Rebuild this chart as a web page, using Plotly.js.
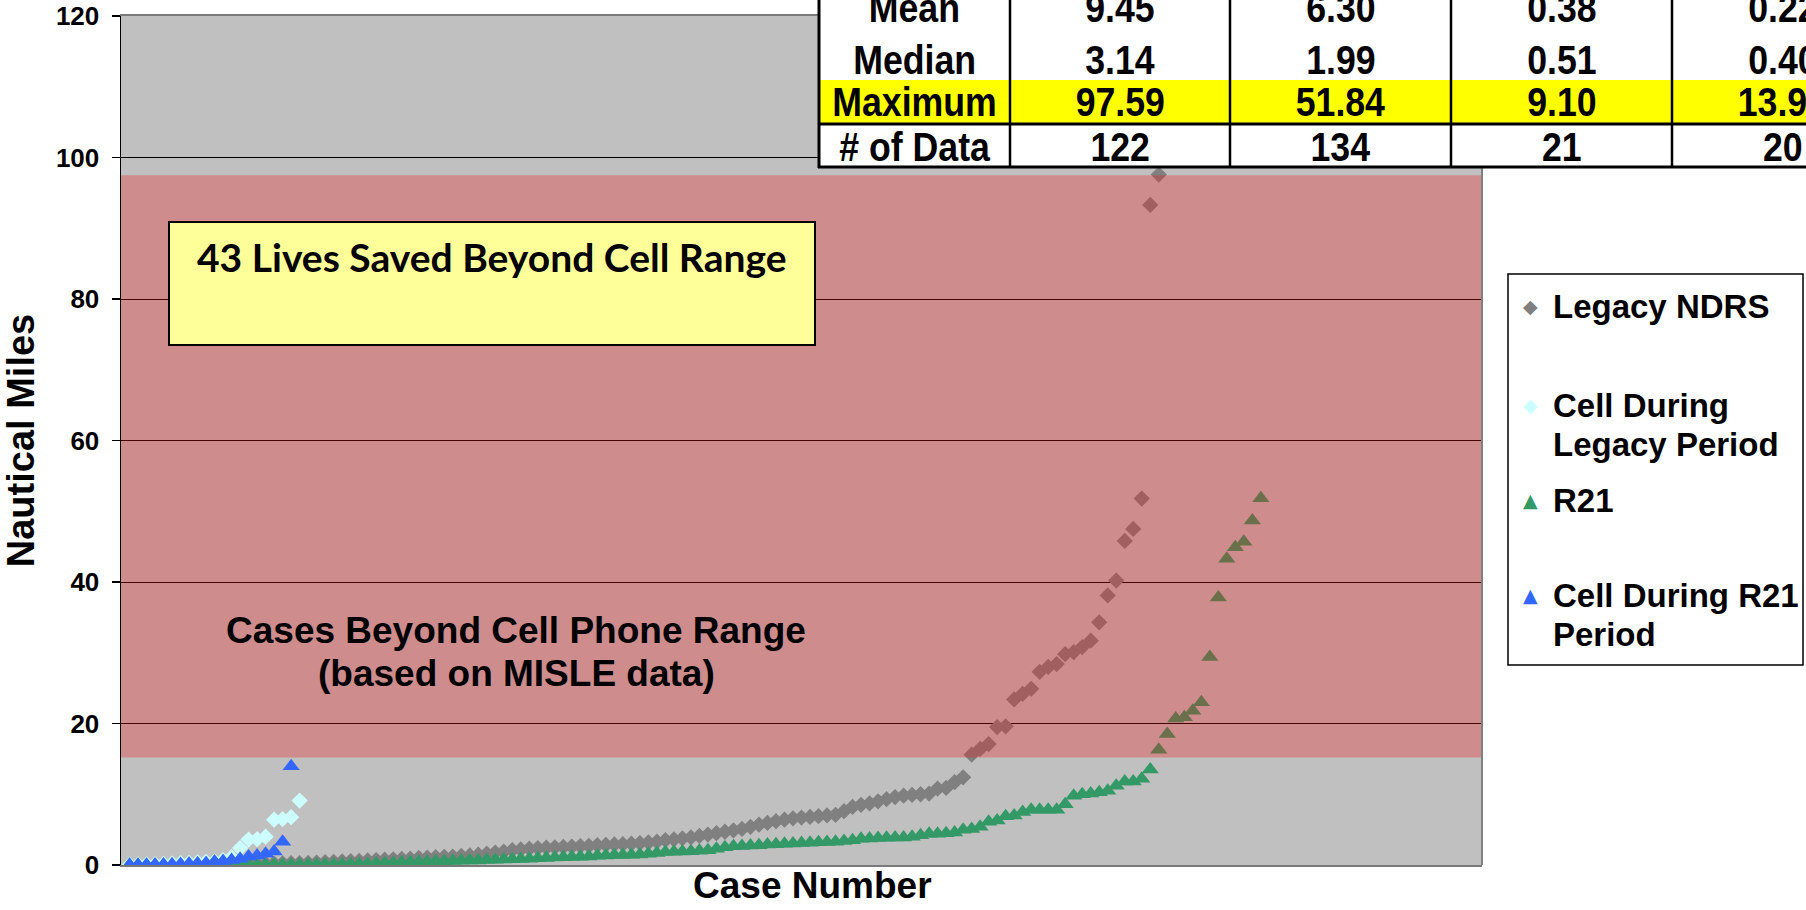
<!DOCTYPE html>
<html><head><meta charset="utf-8">
<script src="https://cdn.plot.ly/plotly-3.0.1.min.js"></script>
<style>html,body{margin:0;padding:0;background:#fff;overflow:hidden}#chart{width:1806px;height:910px}</style>
</head><body><div id="chart"></div>
<script>
// ---------------- DATA ----------------
const seriesNames = ["Legacy NDRS", "Cell During Legacy Period", "R21", "Cell During R21 Period"];

const legacyNDRS = [0.01,0.02,0.03,0.04,0.05,0.06,0.07,0.08,0.09,0.10,0.11,0.12,0.13,0.14,0.15,0.17,0.19,0.21,0.23,0.25,
  0.27,0.30,0.35,0.40,0.45,0.50,0.55,0.60,0.65,0.70,
  0.75,0.80,0.85,0.90,1.00,1.05,1.10,1.15,1.20,1.28,
  1.35,1.45,1.60,1.75,1.90,2.10,2.20,2.30,2.40,2.45,
  2.50,2.55,2.60,2.68,2.72,2.80,2.85,2.90,2.95,3.02,
  3.10,3.18,3.30,3.50,3.62,3.75,3.90,4.10,4.30,4.50,
  4.70,4.90,5.10,5.40,5.70,5.95,6.20,6.40,6.60,6.70,
  6.80,6.90,7.00,7.10,7.60,8.20,8.50,8.70,9.00,9.30,9.60,
  9.80,9.90,10.00,10.10,10.80,10.90,11.70,12.40,
  15.6,16.4,17.1,19.5,19.6,23.4,24.2,24.9,27.3,28.0,28.4,29.8,30.1,30.8,31.7,34.3,38.1,40.2,45.8,47.5,51.8,93.3,97.59];

const cellLegacy = [0.05,0.08,0.10,0.12,0.15,0.20,0.25,0.30,0.38,0.45,0.51,0.70,1.10,2.40,3.60,3.65,4.00,6.40,6.50,6.75,9.10];

const r21 = [0.00,0.00,0.00,0.00,0.00,0.00,0.00,0.00,0.00,0.00,0.01,0.01,0.01,0.02,0.02,0.02,0.03,0.03,0.04,0.04,
  0.05,0.06,0.07,0.08,0.09,0.10,0.11,0.13,0.15,0.20,
  0.25,0.30,0.35,0.40,0.42,0.45,0.50,0.52,0.55,0.60,
  0.62,0.65,0.70,0.75,0.78,0.80,0.85,0.90,0.95,1.00,
  1.05,1.10,1.12,1.15,1.20,1.30,1.35,1.40,1.42,1.46,
  1.50,1.60,1.70,1.82,1.88,1.90,1.95,2.03,2.10,2.30,
  2.50,2.64,2.70,2.75,2.80,2.88,2.95,3.00,3.05,3.10,
  3.15,3.20,3.25,3.30,3.40,3.50,3.70,3.75,3.80,3.85,3.90,
  3.90,4.00,4.20,4.40,4.40,4.50,4.60,5.00,5.10,5.40,6.10,6.30,6.90,7.00,7.50,7.80,7.80,7.80,7.80,8.60,
  9.80,10.00,10.10,10.30,10.50,11.20,11.80,11.80,12.20,13.50,16.30,18.50,20.70,20.90,21.80,23.00,
  29.40,37.80,43.30,44.90,45.70,48.70,51.84];

const cellR21 = [0.02,0.03,0.05,0.06,0.08,0.10,0.15,0.20,0.25,0.30,0.50,0.55,0.70,0.90,1.20,1.35,1.60,1.90,3.30,13.94];

// Summary table (text as printed)
const statRowLabels   = ["Mean", "Median", "Maximum", "# of Data"];
const statLegacyNDRS  = ["9.45", "3.14", "97.59", "122"];
const statR21         = ["6.30", "1.99", "51.84", "134"];
const statCellLegacy  = ["0.38", "0.51", "9.10", "21"];
const statCellR21     = ["0.22", "0.40", "13.94", "20"];

// Band of cases beyond cell phone range (nautical miles)
const beyondRangeBand = [15.2, 97.5];
const yTickVals = [0, 20, 40, 60, 80, 100, 120];

const legendLines = [["Legacy NDRS"], ["Cell During", "Legacy Period"], ["R21"], ["Cell During R21", "Period"]];
const bandLabelLines = ["Cases Beyond Cell Phone Range", "(based on MISLE data)"];
const calloutText = "43 Lives Saved Beyond Cell Range";
const xTitleText = "Case Number";
const yTitleText = "Nautical Miles";

// ---------------- STYLE / LAYOUT ----------------
const W = 1806, H = 910;
const L = 121, R = 1482, T = 16, B = 865;
const px = p => (p - L) / (R - L);
const py = p => (B - p) / (B - T);
const ARIAL = "Liberation Sans, Arial, Helvetica, sans-serif";
const colors = ["#808080", "#CCFFFF", "#339966", "#3366FF"];
const symbols = ["diamond", "diamond", "triangle-up", "triangle-up"];
const sizes = [12.5, 12.5, 15, 15];
const allSeries = [legacyNDRS, cellLegacy, r21, cellR21];

const traces = allSeries.map((vals, i) => ({
  type: "scatter", mode: "markers", name: seriesNames[i],
  x: vals.map((_, k) => k + 1), y: vals,
  marker: {symbol: symbols[i], size: sizes[i], color: colors[i], line: {width: 0}},
  showlegend: false, hoverinfo: "x+y+name"
}));

const shapes = [];
const annotations = [];
const narrowIdx = new Set();

// red band (drawn above markers, semi transparent)
shapes.push({type: "rect", layer: "above", xref: "paper", yref: "y", x0: 0, x1: 1,
  y0: beyondRangeBand[0], y1: beyondRangeBand[1], fillcolor: "rgba(240,13,13,0.29)", line: {width: 0}});
// right border of plot area
shapes.push({type: "line", layer: "above", xref: "paper", yref: "paper", x0: 1, x1: 1, y0: 0, y1: 1,
  line: {color: "#808080", width: 2}});
// yellow callout box
shapes.push({type: "rect", layer: "above", xref: "paper", yref: "paper",
  x0: px(169), x1: px(815), y0: py(345), y1: py(222), fillcolor: "#FFFF99", line: {color: "#000", width: 2}});
annotations.push({xref: "paper", yref: "paper", x: px(492), y: py(257), text: calloutText, showarrow: false,
  xanchor: "center", yanchor: "middle", font: {family: "Lato, 'Open Sans', sans-serif", size: 39, weight: 700, color: "#000"}});

// band label
bandLabelLines.forEach((t, i) => annotations.push({xref: "paper", yref: "paper", x: px(516), y: py(630 + i * 43),
  text: t, showarrow: false, xanchor: "center", yanchor: "middle",
  font: {family: ARIAL, size: 37, weight: 700, color: "#000"}}));

// x axis title (placed like the original, slightly right of centre)
annotations.push({xref: "paper", yref: "paper", x: px(812), y: py(908), text: xTitleText, showarrow: false,
  xanchor: "center", yanchor: "bottom", font: {family: ARIAL, size: 37, weight: 700, color: "#000"}});

// ---- summary table ----
const colEdges = [819, 1010, 1230, 1451, 1672, 1893];
const rowCenters = [8, 60, 102, 147];
const tblTop = -20, tblBot = 167;
shapes.push({type: "rect", layer: "above", xref: "paper", yref: "paper", x0: px(819), x1: px(1900),
  y0: py(tblBot), y1: py(tblTop), fillcolor: "#FFFFFF", line: {width: 0}});
shapes.push({type: "rect", layer: "above", xref: "paper", yref: "paper", x0: px(819), x1: px(1900),
  y0: py(124), y1: py(80), fillcolor: "#FFFF00", line: {width: 0}});
colEdges.forEach((e, i) => shapes.push({type: "line", layer: "above", xref: "paper", yref: "paper",
  x0: px(e), x1: px(e), y0: py(tblBot + 1), y1: py(tblTop), line: {color: "#000", width: i === 0 ? 3 : 2.5}}));
[124, 167].forEach(yy => shapes.push({type: "line", layer: "above", xref: "paper", yref: "paper",
  x0: px(818), x1: px(1900), y0: py(yy), y1: py(yy), line: {color: "#000", width: 3}}));
const tableCols = [statRowLabels, statLegacyNDRS, statR21, statCellLegacy, statCellR21];
tableCols.forEach((col, c) => col.forEach((txt, r) => {
  narrowIdx.add(annotations.length);
  annotations.push({xref: "paper", yref: "paper",
    x: px((colEdges[c] + colEdges[c + 1]) / 2), y: py(rowCenters[r]), text: txt, showarrow: false,
    xanchor: "center", yanchor: "middle", font: {family: ARIAL, size: 41, weight: 700, color: "#000"}});
}));

// ---- legend (manual, Excel style) ----
shapes.push({type: "rect", layer: "above", xref: "paper", yref: "paper", x0: px(1508), x1: px(1803),
  y0: py(665), y1: py(274), fillcolor: "#FFFFFF", line: {color: "#000", width: 1.5}});
const legendTops = [306, 405, 500, 595];
const legendGlyph = ["\u25C6", "\u25C6", "\u25B2", "\u25B2"];
legendLines.forEach((lines, i) => {
  annotations.push({xref: "paper", yref: "paper", x: px(1531), y: py(legendTops[i]), text: legendGlyph[i],
    showarrow: false, xanchor: "center", yanchor: "middle", font: {family: "DejaVu Sans", size: 19, color: colors[i]}});
  lines.forEach((t, j) => annotations.push({xref: "paper", yref: "paper", x: px(1551), y: py(legendTops[i] + j * 39),
    text: t, showarrow: false, xanchor: "left", yanchor: "middle",
    font: {family: ARIAL, size: 33, weight: 700, color: "#000"}}));
});

const layout = {
  width: W, height: H,
  margin: {l: L, r: W - R, t: T, b: H - B, pad: 0},
  paper_bgcolor: "#FFFFFF", plot_bgcolor: "#C0C0C0",
  showlegend: false,
  xaxis: {range: [0, 160], showticklabels: false, ticks: "", showgrid: false, zeroline: false,
    showline: true, linecolor: "#7a7a7a", linewidth: 2, mirror: true},
  yaxis: {range: [0, 120], tickvals: yTickVals, ticks: "outside", ticklen: 8, tickwidth: 1.5, tickcolor: "#000",
    showline: true, linecolor: "#000", linewidth: 1.5, zeroline: false,
    showgrid: true, gridcolor: "#000", gridwidth: 1, ticklabelstandoff: 7,
    tickfont: {family: ARIAL, size: 26, weight: 700, color: "#000"},
    title: {text: yTitleText, standoff: 12, font: {family: ARIAL, size: 38, weight: 700, color: "#000"}}},
  shapes: shapes, annotations: annotations
};

// condensed (Arial Narrow-like) look for the table text
function condenseTable(gd) {
  gd.querySelectorAll("g.annotation").forEach(g => {
    const idx = +g.getAttribute("data-index");
    if (!narrowIdx.has(idx)) return;
    const t = g.querySelector("text");
    if (!t) return;
    t.style.transformBox = "fill-box";
    t.style.transformOrigin = "center";
    t.style.transform = "scaleX(0.87)";
  });
}

Plotly.newPlot("chart", traces, layout, {displayModeBar: false, staticPlot: true}).then(condenseTable);
</script>
</body></html>
